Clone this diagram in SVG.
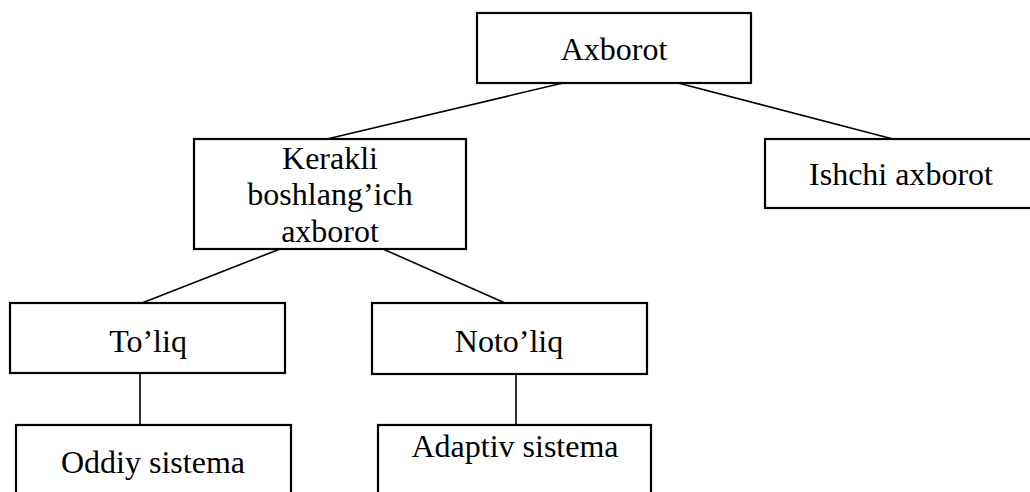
<svg xmlns="http://www.w3.org/2000/svg" width="1030" height="492" viewBox="0 0 1030 492">
  <style>
    .box { fill: #ffffff; stroke: #000000; stroke-width: 2.2; }
    .link { fill: none; stroke: #000000; stroke-width: 1.6; }
    .label { font-family: "Liberation Serif", "Times New Roman", serif; font-size: 32px; fill: #000000; text-anchor: middle; }
  </style>
  <rect width="1030" height="492" fill="#ffffff"/>

  <g id="connectors">
    <line class="link" x1="563" y1="83" x2="327" y2="139"/>
    <line class="link" x1="678" y1="83" x2="893" y2="139"/>
    <line class="link" x1="280" y1="249" x2="142" y2="303"/>
    <line class="link" x1="383" y1="249" x2="505" y2="303"/>
    <line class="link" x1="140" y1="373" x2="140" y2="425"/>
    <line class="link" x1="516" y1="374" x2="516" y2="425"/>
  </g>

  <g id="axborot">
    <rect class="box" x="477" y="13" width="274" height="70"/>
    <text class="label" x="614" y="60">Axborot</text>
  </g>

  <g id="kerakli">
    <rect class="box" x="194" y="139" width="272" height="110"/>
    <text class="label" x="330" y="169">Kerakli</text>
    <text class="label" x="330" y="205">boshlang’ich</text>
    <text class="label" x="330" y="242">axborot</text>
  </g>

  <g id="ishchi">
    <rect class="box" x="765" y="139" width="280" height="69"/>
    <text class="label" x="901" y="185">Ishchi axborot</text>
  </g>

  <g id="toliq">
    <rect class="box" x="10" y="303" width="275" height="70"/>
    <text class="label" x="148" y="352">To’liq</text>
  </g>

  <g id="notoliq">
    <rect class="box" x="372" y="303" width="275" height="71"/>
    <text class="label" x="509" y="352">Noto’liq</text>
  </g>

  <g id="oddiy">
    <rect class="box" x="16" y="425" width="275" height="80"/>
    <text class="label" x="153" y="473">Oddiy sistema</text>
  </g>

  <g id="adaptiv">
    <rect class="box" x="378" y="425" width="273" height="80"/>
    <text class="label" x="515" y="457">Adaptiv sistema</text>
  </g>
</svg>
